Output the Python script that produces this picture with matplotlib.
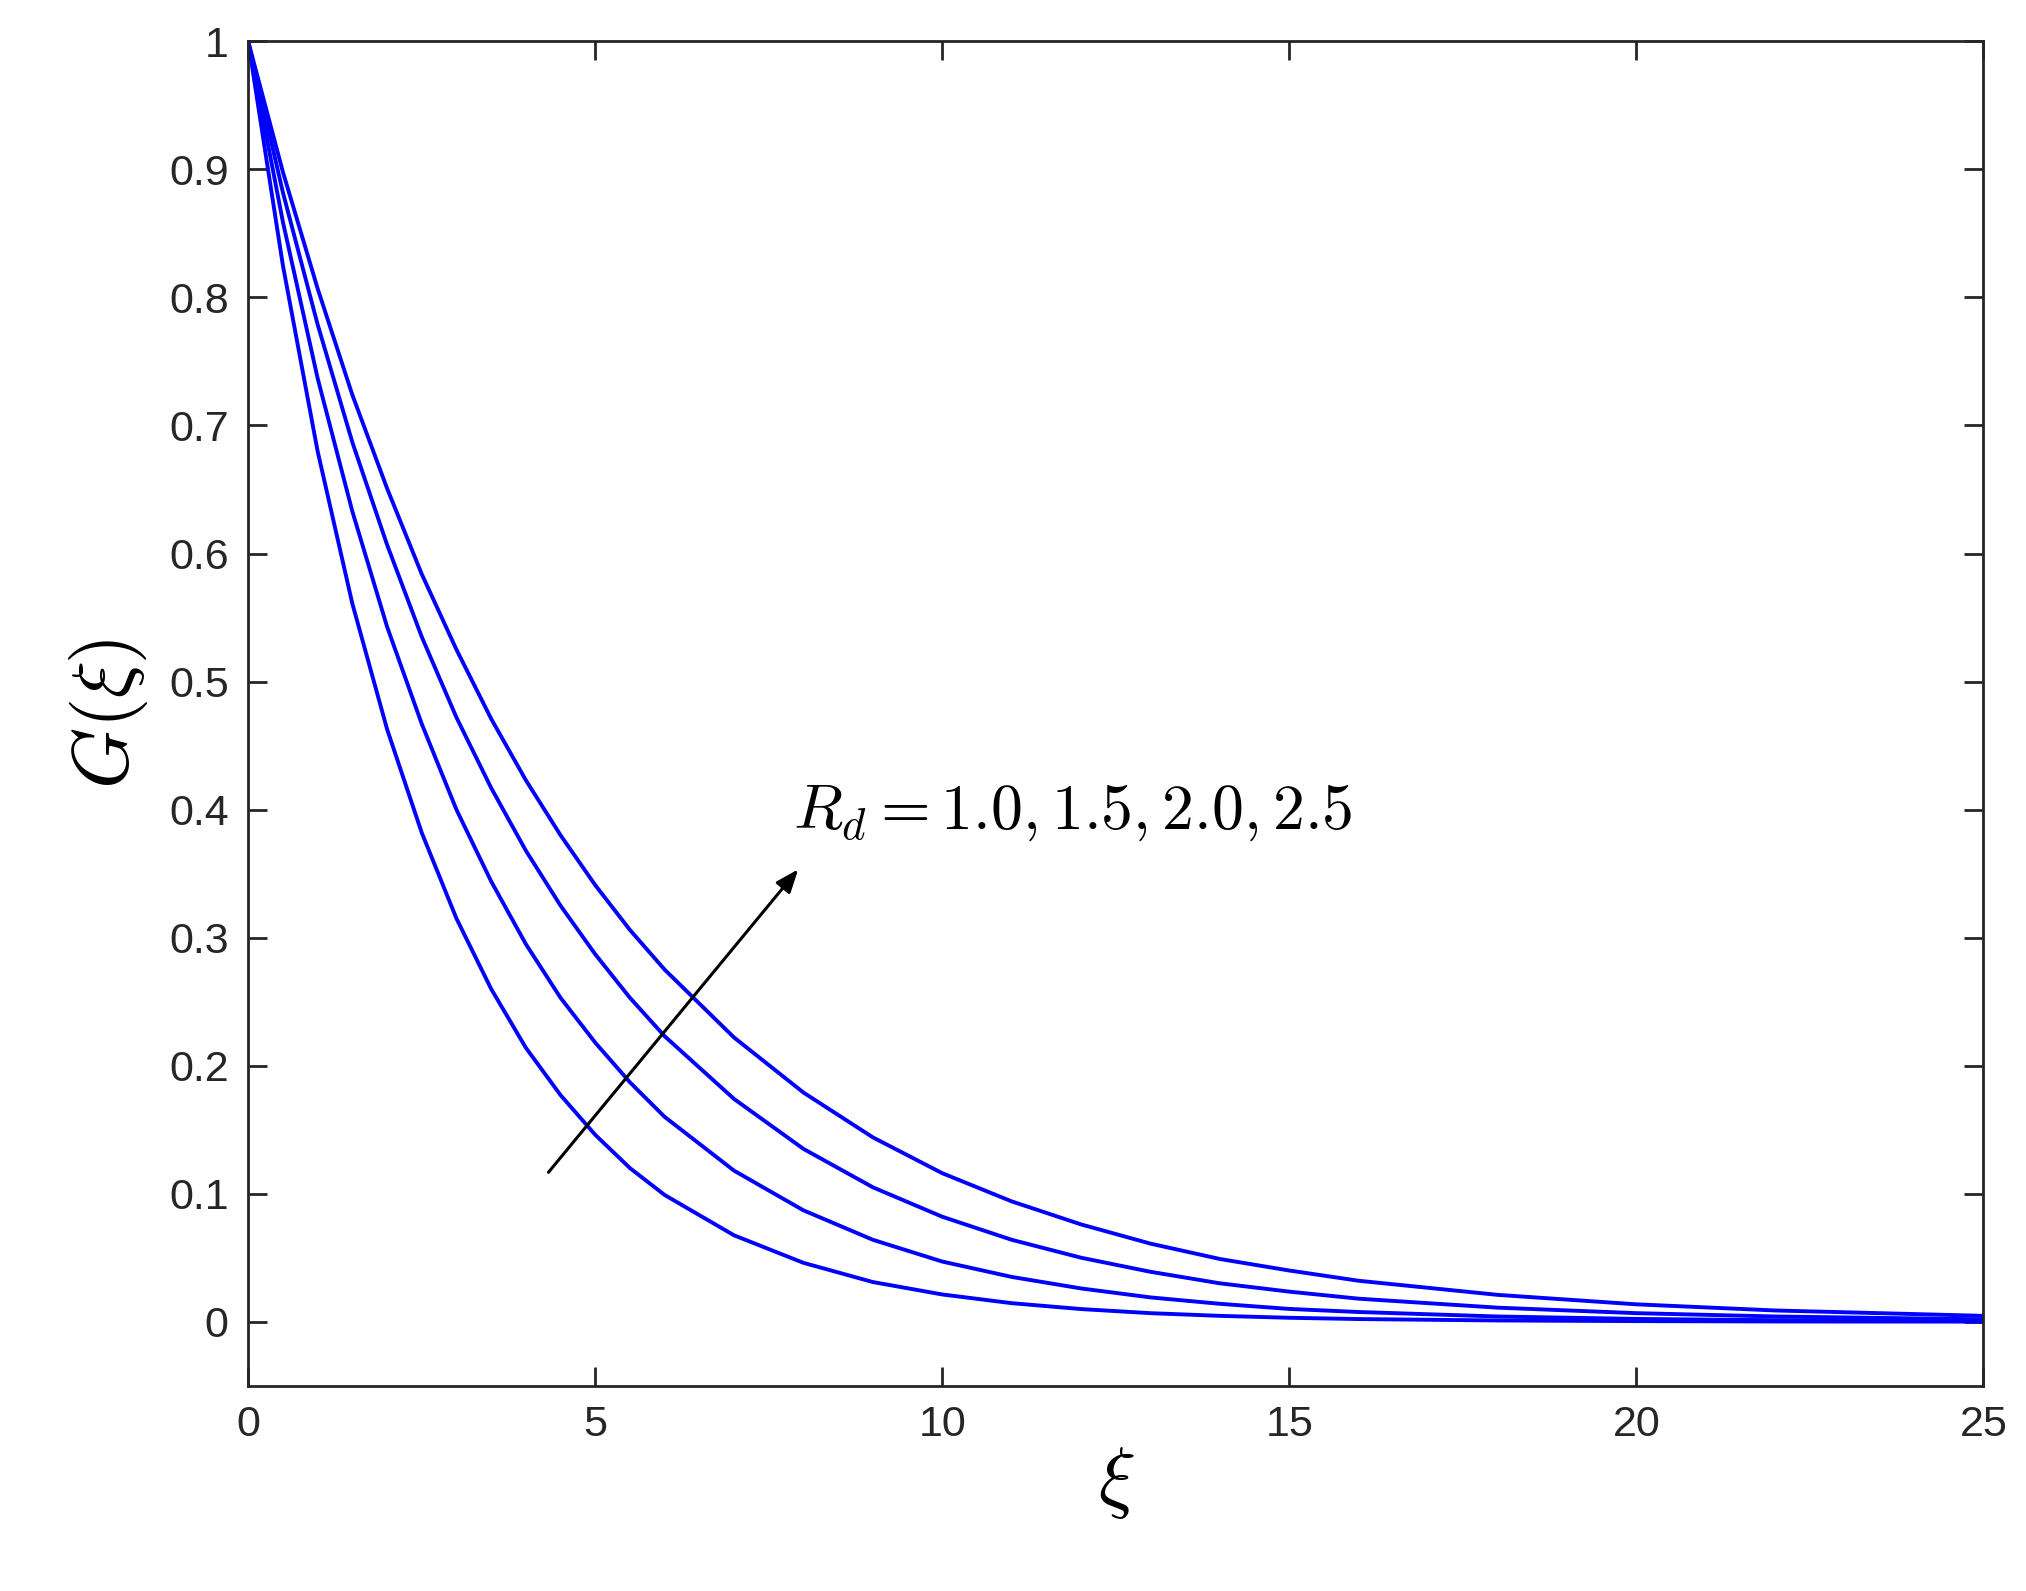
import matplotlib
matplotlib.use('Agg')
import matplotlib.pyplot as plt

plt.rcParams['font.family'] = ['Liberation Sans', 'DejaVu Sans']
plt.rcParams['mathtext.fontset'] = 'cm'

xi = [0, 0.5, 1, 1.5, 2, 2.5, 3, 3.5, 4, 4.5, 5, 5.5, 6, 7, 8, 9, 10, 11, 12, 13, 14, 15, 16, 18, 20, 22, 25]
g_rd10 = [1, 0.825, 0.680, 0.561, 0.463, 0.382, 0.315, 0.260, 0.214, 0.177, 0.146, 0.120, 0.099, 0.0675,
          0.046, 0.031, 0.0213, 0.0145, 0.0099, 0.0067, 0.0046, 0.0031, 0.0021, 0.001, 0.0005, 0.0002, 0.0001]
g_rd15 = [1, 0.859, 0.737, 0.633, 0.543, 0.467, 0.400, 0.344, 0.295, 0.253, 0.218, 0.187, 0.160, 0.118,
          0.087, 0.064, 0.047, 0.035, 0.026, 0.019, 0.014, 0.010, 0.0076, 0.0041, 0.0022, 0.0012, 0.0005]
g_rd20 = [1, 0.882, 0.779, 0.687, 0.607, 0.535, 0.472, 0.417, 0.368, 0.325, 0.287, 0.253, 0.223, 0.174,
          0.135, 0.105, 0.082, 0.064, 0.050, 0.039, 0.030, 0.0235, 0.018, 0.011, 0.0067, 0.0041, 0.0019]
g_rd25 = [1, 0.898, 0.807, 0.724, 0.651, 0.584, 0.525, 0.471, 0.423, 0.380, 0.341, 0.306, 0.275, 0.222,
          0.179, 0.144, 0.116, 0.094, 0.076, 0.061, 0.049, 0.040, 0.032, 0.021, 0.0136, 0.0088, 0.0046]

fig = plt.figure(figsize=(20.26, 15.91), dpi=100)
ax = fig.add_axes([0.1225, 0.129, 0.8565, 0.845])
for g in [g_rd10, g_rd15, g_rd20, g_rd25]:
    ax.plot(xi, g, color='blue', linewidth=2.8)

ax.set_xlim(0, 25)
ax.set_ylim(-0.05, 1)
ax.set_xticks([0, 5, 10, 15, 20, 25])
ax.set_yticks([0, 0.1, 0.2, 0.3, 0.4, 0.5, 0.6, 0.7, 0.8, 0.9, 1])
ax.set_yticklabels(['0', '0.1', '0.2', '0.3', '0.4', '0.5', '0.6', '0.7', '0.8', '0.9', '1'])
ax.tick_params(direction='in', length=14, width=2, top=True, right=True,
               labelsize=31, colors='#262626', pad=14)
for s in ax.spines.values():
    s.set_color('#262626')
    s.set_linewidth(2)

ax.set_xlabel(r'$\xi$', fontsize=56, labelpad=0)
ax.set_ylabel(r'$G(\xi)$', fontsize=56, labelpad=14)

ax.annotate('', xy=(7.95, 0.355), xytext=(4.3, 0.115),
            arrowprops=dict(arrowstyle='-|>,head_length=1.4,head_width=0.55',
                            color='black', lw=2.2))
ax.text(7.85, 0.385, r'$R_d = 1.0, 1.5, 2.0, 2.5$', fontsize=46)

fig.savefig('out.png')
